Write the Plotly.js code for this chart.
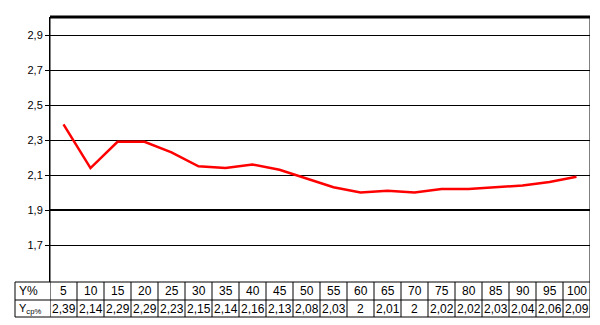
<!DOCTYPE html>
<html><head><meta charset="utf-8">
<script src="https://cdn.plot.ly/plotly-3.0.1.min.js"></script>
<style>html,body{margin:0;padding:0;background:#fff}#chart{width:600px;height:325px}</style>
</head><body><div id="chart"></div>
<script>
var categories = ["5","10","15","20","25","30","35","40","45","50","55","60","65","70","75","80","85","90","95","100"];
var values = [2.39,2.14,2.29,2.29,2.23,2.15,2.14,2.16,2.13,2.08,2.03,2,2.01,2,2.02,2.02,2.03,2.04,2.06,2.09];
var yTicks = [1.7,1.9,2.1,2.3,2.5,2.7,2.9];
var rowLabel1 = "Y%";
var rowLabel2 = "Y<sub>ср%</sub>";

var H = 325, T = 17, B = 43, L = 50, R = 10;
var ph = H - T - B, pw = 600 - L - R;
function py(px){ return -(px) / ph; } // px below plot bottom -> paper y
var row1 = py(18), row2 = py(35);
var tableLeft = -(35) / pw;

var shapes = [];
var black = '#000';
// table horizontal lines
[0, row1, row2].forEach(function(y){
  shapes.push({type:'line', xref:'paper', yref:'paper', x0:tableLeft, x1:1, y0:y, y1:y, line:{color:black,width:1}});
});
// table left edge
shapes.push({type:'line', xref:'paper', yref:'paper', x0:tableLeft, x1:tableLeft, y0:0, y1:row2, line:{color:black,width:1}});
// column separators
for (var i = 0; i <= categories.length; i++) {
  shapes.push({type:'line', xref:'x', yref:'paper', x0:i-0.5, x1:i-0.5, y0:(i===0||i===categories.length)?1:0, y1:row2, line:{color:black,width:1}});
}
// top border thick
shapes.push({type:'line', xref:'paper', yref:'paper', x0:0, x1:1, y0:1, y1:1, line:{color:black,width:3}});
// thick 1.9 line
shapes.push({type:'line', xref:'paper', yref:'y', x0:0, x1:1, y0:1.9, y1:1.9, line:{color:black,width:2}});

var annotations = [];
var fnt = {family:'Liberation Sans, Arial, sans-serif', size:12, color:'#000'};
annotations.push({xref:'paper', yref:'paper', x:tableLeft + 0.004, y:(0+row1)/2, xanchor:'left', yanchor:'middle', text:rowLabel1, showarrow:false, font:fnt});
annotations.push({xref:'paper', yref:'paper', x:tableLeft + 0.004, y:(row1+row2)/2, xanchor:'left', yanchor:'middle', text:rowLabel2, showarrow:false, font:{family:fnt.family, size:11, color:'#000'}});
categories.forEach(function(c, i){
  annotations.push({xref:'x', yref:'paper', x:i, y:(0+row1)/2, xanchor:'center', yanchor:'middle', text:c, showarrow:false, font:fnt});
  annotations.push({xref:'x', yref:'paper', x:i, y:(row1+row2)/2, xanchor:'center', yanchor:'middle', text:String(values[i]).replace('.', ','), showarrow:false, font:fnt});
});

var trace = {x: categories.map(function(c,i){return i;}), y: values, type:'scatter', mode:'lines', line:{color:'#ff0000', width:2.5}, hoverinfo:'none'};

var layout = {
  width:600, height:325,
  margin:{l:L, r:R, t:T, b:B, pad:0},
  paper_bgcolor:'#fff', plot_bgcolor:'#fff',
  separators:',.',
  showlegend:false,
  font:fnt,
  xaxis:{range:[-0.5, categories.length-0.5], showgrid:false, zeroline:false, showticklabels:false, ticks:'', showline:false, fixedrange:true},
  yaxis:{range:[1.489, 3.003], tickvals:yTicks, tickformat:'.1f', showgrid:true, gridcolor:'#000', gridwidth:1, zeroline:false,
         ticks:'outside', ticklen:4, tickcolor:'#000', showline:true, linecolor:'#000', linewidth:1, mirror:false,
         tickfont:{family:'Liberation Sans, Arial, sans-serif', size:11, color:'#000'}},
  shapes:shapes,
  annotations:annotations
};
Plotly.newPlot('chart', [trace], layout, {staticPlot:true});
</script></body></html>
